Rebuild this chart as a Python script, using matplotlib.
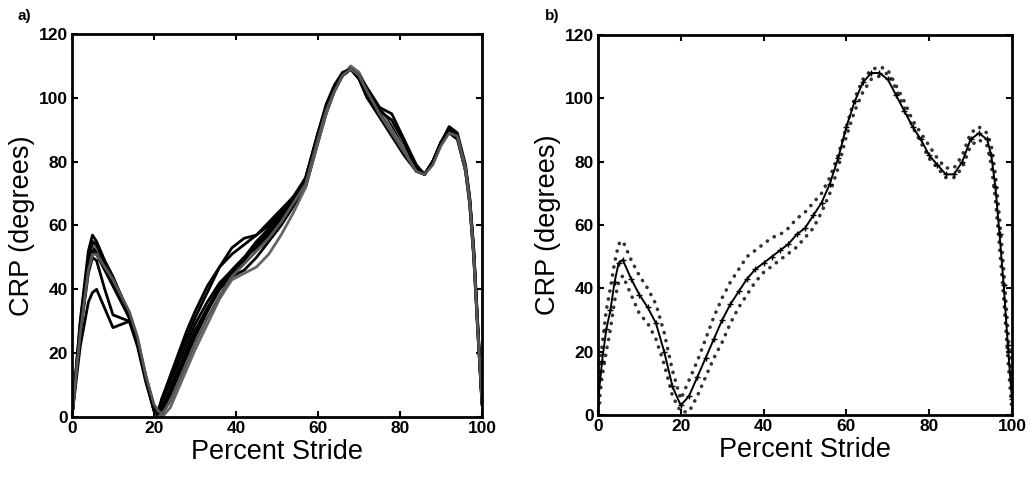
import matplotlib
matplotlib.use("Agg")
import matplotlib.pyplot as plt

plt.rcParams['font.family'] = ['Liberation Sans', 'DejaVu Sans']

# ---------------- Panel a: individual trials ----------------
xa = [0, 2, 4, 5, 6, 8, 10, 12, 14, 16, 18, 20, 21, 22, 24, 26, 28, 30, 33, 36, 39, 42, 45, 48,
      51, 54, 57, 60, 62, 64, 66, 68, 70, 72, 75, 78, 81, 84, 86, 88, 90, 92, 94, 96, 97, 98, 99, 100]

trial1 = [0, 27, 47, 53, 52, 47, 42, 37, 31, 23, 12, 2, 2, 5, 11, 17, 23, 29, 36, 42, 46, 50, 55, 59,
          63, 68, 73, 87, 96, 103, 107, 109, 106, 101, 95, 89, 83, 77, 76, 80, 86, 90, 88, 78, 68, 52, 28, 5]
trial2 = [0, 30, 52, 57, 55, 49, 44, 38, 32, 24, 13, 3, 1, 6, 13, 20, 27, 33, 41, 47, 51, 54, 57, 61,
          65, 69, 74, 88, 97, 103, 107, 109, 107, 102, 96, 90, 84, 78, 76, 80, 86, 90, 88, 77, 67, 50, 27, 4]
trial3 = [0, 22, 36, 39, 40, 34, 28, 29, 30, 23, 12, 3, 1, 3, 9, 15, 21, 27, 34, 40, 44, 46, 50, 55,
          60, 66, 72, 86, 95, 102, 107, 109, 107, 103, 97, 91, 84, 78, 76, 80, 86, 89, 87, 77, 67, 50, 26, 6]
trial4 = [0, 26, 45, 50, 49, 40, 32, 31, 30, 22, 11, 2, 0, 2, 7, 13, 19, 25, 33, 40, 45, 49, 54, 58,
          62, 67, 74, 88, 97, 103, 107, 109, 106, 100, 94, 88, 82, 77, 76, 80, 86, 90, 88, 78, 69, 53, 29, 5]
trial5 = [0, 28, 48, 54, 53, 48, 43, 38, 32, 24, 12, 3, 1, 0, 3, 9, 15, 21, 29, 37, 43, 45, 47, 51,
          57, 64, 72, 86, 95, 102, 107, 110, 108, 103, 97, 90, 84, 78, 76, 80, 86, 90, 88, 77, 67, 50, 26, 5]
trial6 = [0, 29, 50, 55, 54, 48, 43, 38, 32, 24, 12, 2, 2, 6, 12, 19, 25, 31, 39, 47, 53, 56, 57, 60,
          64, 69, 75, 89, 97, 103, 107, 109, 106, 100, 96, 93, 86, 78, 76, 80, 86, 90, 88, 78, 68, 51, 28, 5]
trial7 = [0, 27, 47, 52, 51, 46, 41, 36, 31, 23, 12, 3, 1, 3, 8, 14, 20, 26, 34, 41, 46, 50, 53, 57,
          62, 68, 75, 89, 98, 104, 108, 109, 107, 103, 97, 95, 87, 79, 76, 80, 86, 91, 89, 79, 69, 52, 27, 4]
trial8 = [0, 26, 46, 51, 51, 47, 43, 38, 33, 25, 13, 4, 2, 1, 5, 11, 17, 23, 31, 38, 44, 48, 52, 56,
          61, 67, 73, 87, 96, 102, 107, 109, 107, 102, 95, 89, 83, 77, 76, 79, 85, 89, 88, 78, 68, 51, 27, 5]
trials = [trial1, trial2, trial3, trial4, trial5, trial6, trial7, trial8]
trial_colors = ['black', 'black', 'black', 'black', '#666666', 'black', 'black', '#555555']

# ---------------- Panel b: mean +/- SD ----------------
xb = [0, 1, 2, 3, 4, 5, 6, 8, 10, 12, 14, 16, 18, 20, 22, 24, 26, 28, 30, 32, 34, 36, 38, 40, 42, 44,
      46, 48, 50, 52, 54, 56, 58, 60, 62, 64, 66, 68, 70, 72, 74, 76, 78, 80, 82, 84, 86, 88, 90,
      92, 94, 95, 96, 97, 98, 99, 100]
mean_b = [4, 17, 27, 33, 42, 48, 49, 43, 38, 34, 29, 20, 9, 3, 6, 12, 18, 24, 30, 35, 39, 43, 46, 48,
          50, 52, 54, 57, 59, 63, 67, 73, 81, 91, 99, 105, 108, 108, 106, 101, 96, 91, 87, 82, 79, 76,
          76, 80, 87, 89, 87, 82, 72, 57, 41, 22, 5]
upper_b = [6, 22, 33, 40, 48, 54, 55, 49, 44, 40, 35, 26, 14, 5, 11, 17, 24, 31, 37, 42, 46, 50, 52, 54,
           56, 57, 59, 62, 64, 67, 70, 75, 82, 91, 100, 106, 109, 110, 109, 104, 99, 93, 89, 85, 81, 78,
           78, 82, 89, 91, 89, 85, 76, 62, 46, 27, 8]
lower_b = [1, 12, 20, 27, 36, 42, 44, 38, 32, 29, 24, 16, 6, 1, 1, 6, 12, 18, 23, 29, 34, 38, 42, 45,
           47, 49, 51, 53, 56, 59, 64, 70, 78, 88, 96, 102, 106, 107, 108, 103, 97, 91, 86, 81, 78, 75,
           75, 78, 85, 87, 85, 79, 68, 53, 37, 18, 1]

xticks = [0, 20, 40, 60, 80, 100]
yticks = [0, 20, 40, 60, 80, 100, 120]

fig = plt.figure(figsize=(10.34, 4.78), dpi=100)
axa = fig.add_axes([0.0696, 0.1276, 0.3965, 0.8013])
axb = fig.add_axes([0.5783, 0.1318, 0.4004, 0.7950])

for y, c in zip(trials, trial_colors):
    axa.plot(xa, y, color=c, lw=2.0)

axb.plot(xb, upper_b, color='#333333', lw=2.6, linestyle=(0, (0.05, 2.2)), dash_capstyle='round')
axb.plot(xb, lower_b, color='#333333', lw=2.6, linestyle=(0, (0.05, 2.2)), dash_capstyle='round')
axb.plot(xb, mean_b, color='black', lw=1.4, marker='+', markersize=4, markeredgewidth=1.0)

for ax in (axa, axb):
    ax.set_xlim(0, 100)
    ax.set_ylim(0, 120)
    ax.set_xticks(xticks)
    ax.set_yticks(yticks)
    ax.set_xticklabels([str(v) for v in xticks], fontsize=12.5, fontweight='bold')
    ax.set_yticklabels([str(v) for v in yticks], fontsize=12.5, fontweight='bold')
    ax.tick_params(axis='x', direction='in', top=True, length=4, width=1.5, pad=3)
    ax.tick_params(axis='y', direction='in', right=True, length=4, width=1.5, pad=3)
    for s in ax.spines.values():
        s.set_linewidth(2.0)
    ax.set_xlabel('Percent Stride', fontsize=19.5, labelpad=2)
    ax.set_ylabel('CRP (degrees)', fontsize=19.5, labelpad=3)

fig.text(18 / 1034, 1 - 16 / 478, 'a)', fontsize=11, fontweight='bold', ha='left', va='center')
fig.text(545 / 1034, 1 - 16 / 478, 'b)', fontsize=11, fontweight='bold', ha='left', va='center')

fig.savefig('out.png', dpi=100)
